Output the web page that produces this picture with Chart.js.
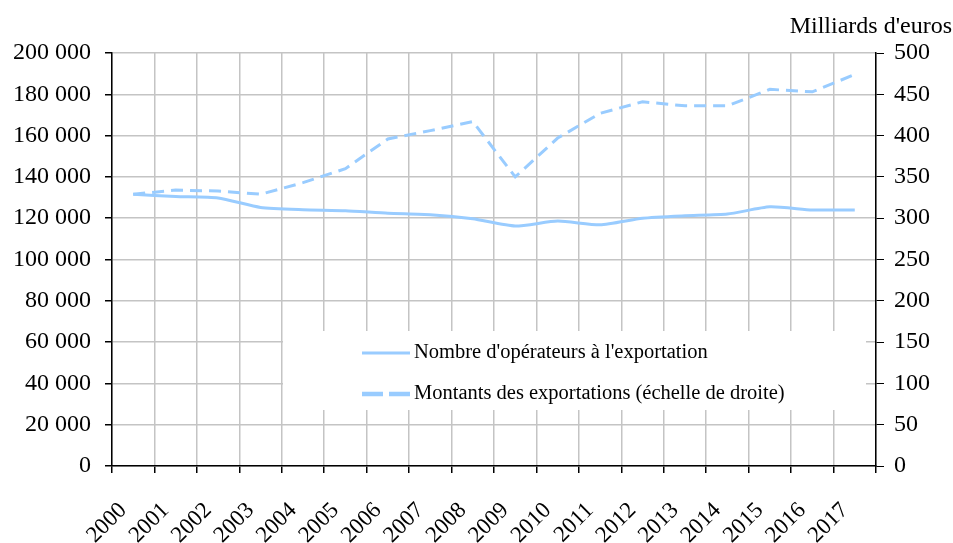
<!DOCTYPE html>
<html lang="fr">
<head>
<meta charset="UTF-8">
<title>Opérateurs et montants des exportations</title>
<script src="https://cdn.jsdelivr.net/npm/chart.js@4.4.1/dist/chart.umd.min.js"></script>
<style>
  html, body { margin: 0; padding: 0; background: #fff; }
  #cadre { width: 953px; height: 543px; }
</style>
</head>
<body>
<div id="cadre"><canvas id="graphExport"></canvas></div>
<script>
// données
const annees = ['2000', '2001', '2002', '2003', '2004', '2005', '2006', '2007', '2008',
                '2009', '2010', '2011', '2012', '2013', '2014', '2015', '2016', '2017'];
const nbOperateurs = [131600, 130500, 129800, 125200, 124100, 123600, 122400, 121700, 119700,
                      116200, 118600, 116800, 120000, 121200, 122000, 125500, 124000, 124000];
const montantsMds = [329, 334, 333, 329, 343, 360, 396, 406, 417,
                     350, 397, 427, 441, 436, 436, 456, 453, 474];
const echelleGauche = [0, 200000, 20000];
const echelleDroite = [0, 500, 50];
const uniteDroite = "Milliards d'euros";

const police = '"Liberation Serif", "Times New Roman", serif';
const bleu = '#99ccff';

function milliers(v) {
    return String(v).replace(/\B(?=(\d{3})+(?!\d))/g, ' ');
}

// légende encadrée dans la zone du graphique
const legendeEncadre = {
    id: 'legendeEncadre',
    beforeDatasetsDraw(chart) {
        const { ctx, chartArea: a } = chart;
        const x0 = a.left + 171, y0 = a.top + 278;
        ctx.save();
        ctx.fillStyle = '#fff';
        ctx.fillRect(x0, y0, 583, 79);
        chart.data.datasets.forEach((ds, i) => {
            const y = y0 + 22 + i * 41;
            ctx.beginPath();
            ctx.strokeStyle = ds.borderColor;
            ctx.lineWidth = i ? 4.5 : 3;
            ctx.setLineDash(i ? [21, 6] : []);
            ctx.moveTo(x0 + 79, y);
            ctx.lineTo(x0 + 127, y);
            ctx.stroke();
            ctx.setLineDash([]);
            ctx.fillStyle = '#000';
            ctx.font = '20.5px ' + police;
            ctx.textBaseline = 'middle';
            ctx.textAlign = 'left';
            ctx.fillText(ds.label, x0 + 131, y);
        });
        ctx.restore();
    }
};

// unité de l'axe de droite, en haut à droite
const uniteAxe = {
    id: 'uniteAxe',
    afterDraw(chart) {
        const ctx = chart.ctx;
        ctx.save();
        ctx.fillStyle = '#000';
        ctx.font = '24px ' + police;
        ctx.textAlign = 'right';
        ctx.textBaseline = 'alphabetic';
        ctx.fillText(uniteDroite, chart.width - 1, 33);
        ctx.restore();
    }
};

new Chart(document.getElementById('graphExport'), {
    type: 'line',
    data: {
        labels: annees,
        datasets: [{
            label: "Nombre d'opérateurs à l'exportation",
            data: nbOperateurs,
            yAxisID: 'y',
            borderColor: bleu,
            borderWidth: 3,
            pointRadius: 0,
            tension: 0.2
        }, {
            label: 'Montants des exportations (échelle de droite)',
            data: montantsMds,
            yAxisID: 'y1',
            borderColor: bleu,
            borderWidth: 3,
            borderDash: [12, 7],
            pointRadius: 0,
            tension: 0
        }]
    },
    options: {
        responsive: true,
        maintainAspectRatio: false,
        animation: false,
        layout: { padding: { top: 53, left: 0, right: 0, bottom: 0 } },
        plugins: {
            legend: { display: false },
            tooltip: { enabled: false }
        },
        scales: {
            x: {
                offset: true,
                grid: { offset: true, color: '#c4c4c4', lineWidth: 1.5, tickColor: '#000', tickLength: 7 },
                border: { color: '#000', width: 1.5 },
                ticks: {
                    autoSkip: false, minRotation: 45, maxRotation: 45,
                    padding: 24, labelOffset: -10, color: '#000',
                    font: { family: police, size: 23 }
                },
                afterFit(s) { s.height = 77; }
            },
            y: {
                position: 'left',
                min: echelleGauche[0], max: echelleGauche[1],
                grid: { color: '#c4c4c4', lineWidth: 1.5, tickColor: '#000', tickLength: 7 },
                border: { color: '#000', width: 1.5 },
                ticks: {
                    stepSize: echelleGauche[2], padding: 14, color: '#000',
                    font: { family: police, size: 24 },
                    callback: v => milliers(v)
                },
                afterFit(s) { s.width = 112; }
            },
            y1: {
                position: 'right',
                min: echelleDroite[0], max: echelleDroite[1],
                grid: { drawOnChartArea: false, tickColor: '#000', tickLength: 8 },
                border: { color: '#000', width: 1.5 },
                ticks: {
                    stepSize: echelleDroite[2], padding: 10, color: '#000',
                    font: { family: police, size: 24 }
                },
                afterFit(s) { s.width = 77; }
            }
        }
    },
    plugins: [legendeEncadre, uniteAxe]
});
</script>
</body>
</html>
